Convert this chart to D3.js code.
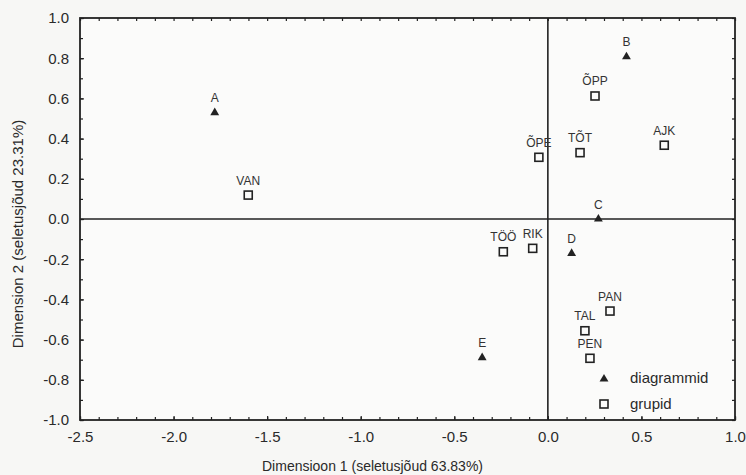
<!DOCTYPE html>
<html><head><meta charset="utf-8">
<script src="https://cdn.jsdelivr.net/npm/d3@7"></script>
<style>
html,body{margin:0;padding:0;background:#f7f7f5;}
svg{display:block;font-family:"Liberation Sans",Arial,sans-serif;}
</style></head>
<body><svg id="chart" width="746" height="475"></svg>
<script>
// Data
const diagramLabels = ["A","B","C","D","E"];
const diagramX = [-1.78, 0.42, 0.27, 0.127, -0.351];
const diagramY = [0.529, 0.807, 0.0, -0.171, -0.690];

const groupLabels = ["VAN","ÕPP","ÕPE","TÕT","AJK","TÖÖ","RIK","PAN","TAL","PEN"];
const groupX = [-1.601, 0.252, -0.048, 0.172, 0.622, -0.238, -0.081, 0.332, 0.198, 0.225];
const groupY = [0.119, 0.612, 0.307, 0.330, 0.367, -0.163, -0.146, -0.458, -0.556, -0.693];

const xTicks = [-2.5, -2.0, -1.5, -1.0, -0.5, 0.0, 0.5, 1.0];
const yTicks = [-1.0, -0.8, -0.6, -0.4, -0.2, 0.0, 0.2, 0.4, 0.6, 0.8, 1.0];
const legendLabels = ["diagrammid", "grupid"];
const xTitle = "Dimensioon 1 (seletusjõud 63.83%)";
const yTitle = "Dimension 2 (seletusjõud 23.31%)";

const svg = d3.select("#chart");
const L = 80, R = 735, T = 18, B = 420;
const x = d3.scaleLinear().domain([-2.5, 1.0]).range([L, R]);
const y = d3.scaleLinear().domain([-1.0, 1.0]).range([B, T]);
const ink = "#222";
const fmt = d => d.toFixed(1);

// plot background
svg.append("rect").attr("x", L).attr("y", T).attr("width", R - L).attr("height", B - T).attr("fill", "#fbfbfa");

const xMinor = d3.range(-25, 11).map(v => v / 10);
const yMinor = d3.range(-10, 11).map(v => v / 10);

function styleAxis(g, labels) {
  g.select(".domain").remove();
  g.selectAll(".tick line").attr("stroke", ink).attr("stroke-width", 1.2);
  g.selectAll(".tick text").attr("fill", "#2a2a2a").style("font-size", "15px");
  if (!labels) g.selectAll(".tick text").remove();
}

// minor ticks on all sides (inward)
svg.append("g").attr("transform", `translate(0,${B})`)
  .call(d3.axisBottom(x).tickValues(xMinor).tickSize(-3).tickFormat(""))
  .call(g => styleAxis(g, false));
svg.append("g").attr("transform", `translate(0,${T})`)
  .call(d3.axisTop(x).tickValues(xMinor).tickSize(-3).tickFormat(""))
  .call(g => styleAxis(g, false));
svg.append("g").attr("transform", `translate(${L},0)`)
  .call(d3.axisLeft(y).tickValues(yMinor).tickSize(-3).tickFormat(""))
  .call(g => styleAxis(g, false));
svg.append("g").attr("transform", `translate(${R},0)`)
  .call(d3.axisRight(y).tickValues(yMinor).tickSize(-3).tickFormat(""))
  .call(g => styleAxis(g, false));

// labelled axes
svg.append("g").attr("transform", `translate(0,${B})`)
  .call(d3.axisBottom(x).tickValues(xTicks).tickSize(-4).tickPadding(11).tickFormat(fmt))
  .call(g => styleAxis(g, true));
svg.append("g").attr("transform", `translate(${L},0)`)
  .call(d3.axisLeft(y).tickValues(yTicks).tickSize(-4).tickPadding(11).tickFormat(fmt))
  .call(g => styleAxis(g, true));

// frame
svg.append("rect").attr("x", L).attr("y", T).attr("width", R - L).attr("height", B - T)
  .attr("fill", "none").attr("stroke", ink).attr("stroke-width", 1.8);

// zero lines
svg.append("line").attr("x1", L).attr("x2", R).attr("y1", y(0)).attr("y2", y(0))
  .attr("stroke", ink).attr("stroke-width", 1.6);
svg.append("line").attr("x1", x(0)).attr("x2", x(0)).attr("y1", T).attr("y2", B)
  .attr("stroke", ink).attr("stroke-width", 1.6);

// axis titles
svg.append("text").attr("x", 262).attr("y", 471).attr("fill", "#2a2a2a")
  .style("font-size", "14px").text(xTitle);
svg.append("text").attr("transform", "translate(23,234) rotate(-90)").attr("text-anchor", "middle")
  .attr("fill", "#2a2a2a").style("font-size", "15px").text(yTitle);

const tri = d3.symbol().type(d3.symbolTriangle).size(34);

// diagram points
const diag = diagramLabels.map((l, i) => ({l, x: diagramX[i], y: diagramY[i]}));
const grp = groupLabels.map((l, i) => ({l, x: groupX[i], y: groupY[i]}));

svg.append("g").selectAll("path").data(diag).join("path")
  .attr("d", tri).attr("transform", d => `translate(${x(d.x)},${y(d.y)})`).attr("fill", ink);

svg.append("g").selectAll("rect").data(grp).join("rect")
  .attr("x", d => x(d.x) - 4).attr("y", d => y(d.y) - 4).attr("width", 8).attr("height", 8)
  .attr("fill", "none").attr("stroke", ink).attr("stroke-width", 1.6);

svg.append("g").selectAll("text").data(diag.concat(grp)).join("text")
  .attr("x", d => x(d.x)).attr("y", d => y(d.y) - 10.5).attr("text-anchor", "middle")
  .attr("fill", "#333").style("font-size", "12px").text(d => d.l);

// legend
const lg = svg.append("g");
lg.append("path").attr("d", tri).attr("transform", "translate(604,379)").attr("fill", ink);
lg.append("rect").attr("x", 600).attr("y", 400).attr("width", 8).attr("height", 8)
  .attr("fill", "none").attr("stroke", ink).attr("stroke-width", 1.6);
lg.selectAll("text").data(legendLabels).join("text")
  .attr("x", 630).attr("y", (d, i) => 383 + i * 26).attr("fill", "#2a2a2a")
  .style("font-size", "15px").text(d => d);
</script></body></html>
